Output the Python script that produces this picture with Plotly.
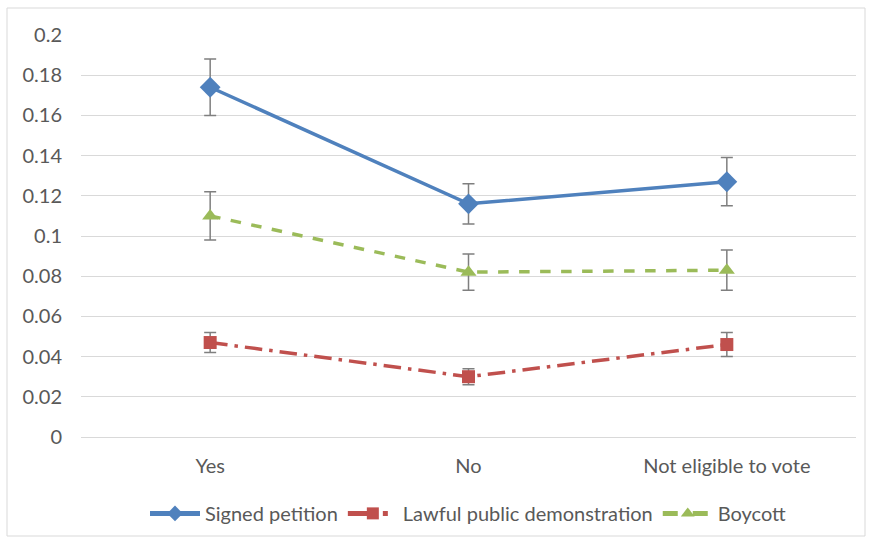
import plotly.graph_objects as go

categories = ["Yes", "No", "Not eligible to vote"]

petition = [0.174, 0.116, 0.127]
petition_err = [0.014, 0.010, 0.012]

demonstration = [0.047, 0.030, 0.046]
demonstration_err = [0.005, 0.004, 0.006]

boycott = [0.110, 0.082, 0.083]
boycott_err = [0.012, 0.009, 0.010]

y_ticks = [0, 0.02, 0.04, 0.06, 0.08, 0.1, 0.12, 0.14, 0.16, 0.18, 0.2]

W, H = 872, 542
ML, MR, MT, MB = 81, 16, 35, 105
PW, PH = W - ML - MR, H - MT - MB

FONT = "Lato"
FS = 20
TEXT = "#595959"
ERR = "#7f7f7f"


def series(name, y, err, color, dash, symbol, size):
    return go.Scatter(
        x=categories, y=y, name=name, mode="lines+markers",
        line=dict(color=color, width=3.5, dash=dash),
        marker=dict(symbol=symbol, size=size, color=color),
        error_y=dict(type="data", array=err, visible=True,
                     color=ERR, thickness=1.5, width=6),
    )


fig = go.Figure()
fig.add_trace(series("Signed petition", petition, petition_err,
                     "#4f81bd", "solid", "diamond", 16))
fig.add_trace(series("Lawful public demonstration", demonstration, demonstration_err,
                     "#c0504d", "longdashdot", "square", 13))
fig.add_trace(series("Boycott", boycott, boycott_err,
                     "#9bbb59", "dash", "triangle-up", 14))

# light outer frame around the whole chart
fig.add_shape(type="rect", xref="paper", yref="paper",
              x0=(7 - ML) / PW, x1=(865 - ML) / PW,
              y0=-(536 - MT - PH) / PH, y1=1 + (MT - 8) / PH,
              line=dict(color="#d9d9d9", width=1), fillcolor="rgba(0,0,0,0)",
              layer="below")

fig.update_layout(
    width=W, height=H,
    margin=dict(l=ML, r=MR, t=MT, b=MB, autoexpand=False),
    paper_bgcolor="white", plot_bgcolor="white",
    font=dict(family=FONT, size=FS, color=TEXT),
    showlegend=True,
    legend=dict(orientation="h", x=0.5, xanchor="center", y=-0.19, yanchor="middle",
                font=dict(family=FONT, size=FS, color=TEXT),
                itemwidth=50, traceorder="normal", itemsizing="constant"),
    xaxis=dict(type="category", range=[-0.5, 2.5], showgrid=False, showline=False,
               zeroline=False, ticks="", tickfont=dict(size=FS, color=TEXT),
               ticklabelstandoff=15),
    yaxis=dict(range=[0, 0.2], tickvals=y_ticks,
               ticktext=[("%g" % v) for v in y_ticks],
               showgrid=True, gridcolor="#d9d9d9", gridwidth=1,
               zeroline=True, zerolinecolor="#d9d9d9", zerolinewidth=1,
               showline=False, ticks="", ticklen=0,
               tickfont=dict(size=FS, color=TEXT), ticklabelstandoff=18),
)

fig.write_html("out.html")
